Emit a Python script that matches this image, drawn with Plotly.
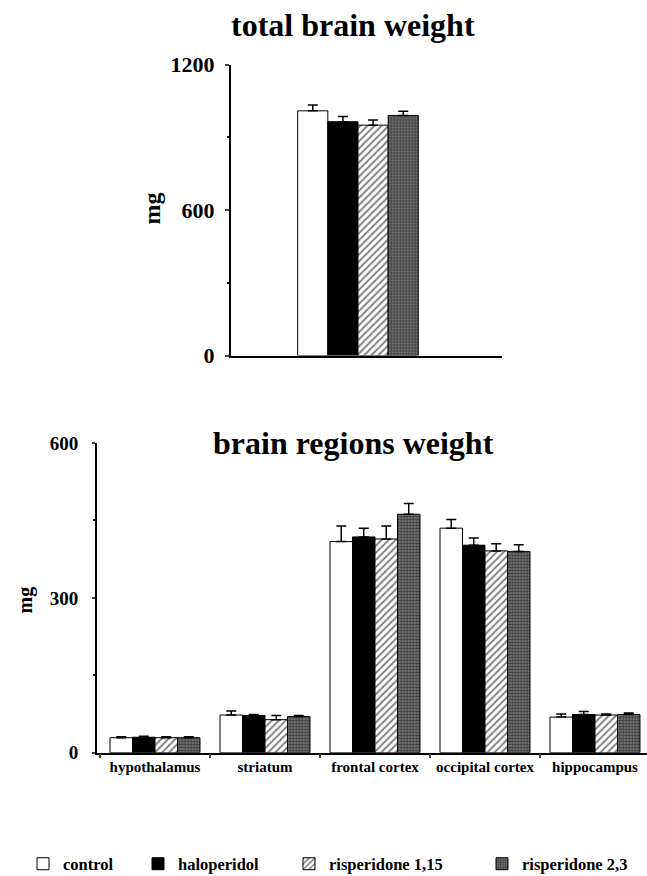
import plotly.graph_objects as go

# ---------------- data ----------------
GROUPS = ["control", "haloperidol", "risperidone 1,15", "risperidone 2,3"]

TOTAL_CAT = ["total brain"]
TOTAL_MEAN = [1009, 964, 950, 990]
TOTAL_ERR = [24, 22, 21, 17]

REGIONS = ["hypothalamus", "striatum", "frontal cortex", "occipital cortex", "hippocampus"]
CONTROL = [29, 73, 409, 435, 69]
CONTROL_ERR = [2, 8, 30, 17, 6]
HALOPERIDOL = [30, 72, 418, 402, 74]
HALOPERIDOL_ERR = [2, 2, 17, 14, 6]
RISP_115 = [29, 64, 414, 391, 73]
RISP_115_ERR = [2, 8, 25, 14, 2]
RISP_23 = [29, 70, 462, 390, 74]
RISP_23_ERR = [2, 2, 21, 13, 3]

REGION_MEANS = [CONTROL, HALOPERIDOL, RISP_115, RISP_23]
REGION_ERRS = [CONTROL_ERR, HALOPERIDOL_ERR, RISP_115_ERR, RISP_23_ERR]

TOTAL_TICKS = [0, 600, 1200]
REGION_TICKS = [0, 300, 600]

# ---------------- styles ----------------
FONT = "Liberation Serif, Times New Roman, serif"
W, H = 647, 876

STYLES = [
    dict(color="white", pattern=dict(shape="")),
    dict(color="black", pattern=dict(shape="")),
    dict(color="white", pattern=dict(shape="/", fgcolor="black", bgcolor="white",
                                      size=5, solidity=0.38, fillmode="overlay")),
    dict(color="#5a5a5a", pattern=dict(shape="+", fgcolor="#111111", bgcolor="#6e6e6e",
                                        size=3, solidity=0.45, fillmode="overlay")),
]
LEGENDS = ["legend", "legend2", "legend3", "legend4"]

fig = go.Figure()

for i, g in enumerate(GROUPS):
    st = STYLES[i]
    fig.add_trace(go.Bar(
        x=TOTAL_CAT, y=[TOTAL_MEAN[i]], name=g, showlegend=False,
        xaxis="x", yaxis="y",
        marker=dict(color=st["color"], pattern=st["pattern"],
                    line=dict(color="black", width=1)),
        error_y=dict(type="data", symmetric=False, array=[TOTAL_ERR[i]], arrayminus=[0],
                     color="black", thickness=1.5, width=5),
    ))

group_w = 0.818 / len(GROUPS)
for i, g in enumerate(GROUPS):
    st = STYLES[i]
    fig.add_trace(go.Bar(
        x=REGIONS, y=REGION_MEANS[i], name=g, legend=LEGENDS[i],
        xaxis="x2", yaxis="y2",
        width=group_w, offset=-0.409 + i * group_w,
        marker=dict(color=st["color"], pattern=st["pattern"],
                    line=dict(color="black", width=1)),
        error_y=dict(type="data", symmetric=False, array=REGION_ERRS[i],
                     arrayminus=[0] * len(REGIONS),
                     color="black", thickness=1.5, width=5),
    ))


def px(x):
    return x / W


def py(y):
    return 1 - y / H


axis_common = dict(showline=True, linecolor="black", linewidth=1.5, showgrid=False,
                   zeroline=False, mirror=False, automargin=False)

legend_box_centers = [45, 160, 311, 504]
legend_layout = {}
for name, cx in zip(LEGENDS, legend_box_centers):
    legend_layout[name] = dict(
        x=px(cx - 22), y=py(864), xanchor="left", yanchor="middle",
        orientation="h", bgcolor="rgba(0,0,0,0)", borderwidth=0,
        font=dict(family=FONT, size=16.5, color="black", weight="bold"),
    )

fig.update_layout(
    width=W, height=H,
    margin=dict(l=0, r=0, t=0, b=0, autoexpand=False),
    paper_bgcolor="white", plot_bgcolor="white",
    barmode="group",
    font=dict(family=FONT, color="black", weight="bold"),
    xaxis=dict(**axis_common, domain=[px(230.7), px(501.7)], anchor="y",
               range=[-0.4697, 0.5303], showticklabels=False, ticks=""),
    yaxis=dict(**axis_common, domain=[py(355.5), py(64.5)], anchor="x",
               range=[0, 1200], tickvals=TOTAL_TICKS, ticks="outside", ticklen=4,
               tickwidth=1.5, ticklabelstandoff=6,
               tickfont=dict(family=FONT, size=22, color="black", weight="bold"),
               minor=dict(dtick=300, ticks="outside", ticklen=2, tickcolor="black")),
    xaxis2=dict(**axis_common, domain=[px(96.7), 1.0], anchor="y2",
                range=[-0.53, 4.4727], ticks="outside", ticklen=4, tickwidth=1.5,
                tickson="boundaries", ticklabelstandoff=0,
                tickfont=dict(family=FONT, size=15, color="black", weight="bold")),
    yaxis2=dict(**axis_common, domain=[py(752.7), py(443)], anchor="x2",
                range=[0, 600], tickvals=REGION_TICKS, ticks="outside", ticklen=3,
                tickwidth=1.5, ticklabelstandoff=10,
                tickfont=dict(family=FONT, size=19, color="black", weight="bold"),
                minor=dict(dtick=150, ticks="outside", ticklen=2, tickcolor="black")),
    bargap=0.555, bargroupgap=0,
    **legend_layout,
)

title_font = dict(family=FONT, size=32, color="black", weight="bold")
annotations = [
    dict(text="total brain weight", x=px(353), y=py(25), xref="paper", yref="paper",
         xanchor="center", yanchor="middle", showarrow=False, font=title_font),
    dict(text="brain regions weight", x=px(353.5), y=py(443), xref="paper", yref="paper",
         xanchor="center", yanchor="middle", showarrow=False, font=title_font),
    dict(text="mg", x=px(151.5), y=py(209), xref="paper", yref="paper", textangle=-90,
         xanchor="center", yanchor="middle", showarrow=False,
         font=dict(family=FONT, size=24, color="black", weight="bold")),
    dict(text="mg", x=px(24.5), y=py(600), xref="paper", yref="paper", textangle=-90,
         xanchor="center", yanchor="middle", showarrow=False,
         font=dict(family=FONT, size=20, color="black", weight="bold")),
]
fig.update_layout(annotations=annotations)

fig.write_html("out.html")
